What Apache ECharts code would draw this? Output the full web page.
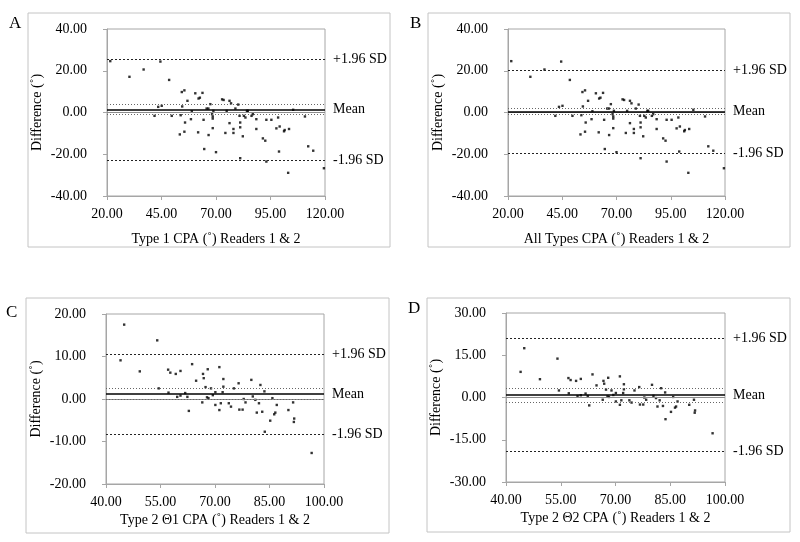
<!DOCTYPE html>
<html>
<head>
<meta charset="utf-8">
<script src="https://cdn.jsdelivr.net/npm/echarts@6/dist/echarts.min.js"></script>
<style>
  html, body { margin: 0; padding: 0; background: #fff; }
  #chart { width: 800px; height: 542px; }
</style>
</head>
<body>
<div id="chart"></div>
<script>
// Type 1 / all types: mean of readers (x) and difference (y)
const type1Mean = [21.5, 30.3, 36.8, 44.5, 48.5, 45.1, 43.5, 41.8, 49.7, 54.3,
  55.5, 56.9, 54.5, 53.8, 55.8, 58.5, 58.9, 53.4, 55.5, 60.5,
  62.0, 62.6, 63.8, 64.3, 61.8, 64.6, 65.7, 66.5, 67.4, 68.2,
  68.5, 68.8, 68.5, 68.5, 66.6, 70.0, 72.8, 73.5, 74.9, 76.2,
  76.9, 76.2, 74.3, 78.0, 78.0, 78.9, 80.2, 80.8, 81.1, 81.1,
  82.3, 81.1, 82.8, 83.5, 84.2, 84.6, 86.3, 86.9, 88.5, 88.5,
  91.5, 92.6, 93.1, 93.1, 95.4, 97.7, 98.5, 99.2, 98.9, 101.2,
  101.5, 103.5, 105.4, 103.1, 110.8, 112.3, 114.6, 119.5];
const type1Diff = [24.6, 17.1, 20.6, 24.4, 15.6, 3.2, 2.7, -1.6, -1.6, 9.8,
  10.6, 5.6, 2.9, -1.3, -4.8, -3.2, 0.6, -10.5, -9.2, 9.2,
  6.7, 7.1, 9.4, -3.5, -9.5, -17.5, 1.9, 1.9, 4.0, -0.8,
  -1.9, 0.8, -2.9, -7.5, -10.8, -19.0, 6.3, 6.0, 0.8, 5.6,
  4.4, -5.1, -9.8, -7.9, -9.8, 1.9, 3.8, -1.6, -4.8, -7.1,
  -11.4, -21.9, -1.6, -2.4, 0.8, 0.8, -1.6, -0.8, -3.2, -7.9,
  -12.4, -13.5, -23.5, -3.5, -3.5, -7.6, -2.4, -6.7, -18.7, -9.0,
  -8.4, -7.9, 1.3, -28.9, -1.9, -16.2, -18.3, -26.7];

// Type 2 (Θ1 / Θ2)
const type2Mean = [45.0, 44.0, 49.3, 54.1, 54.5, 57.1, 57.7, 59.2, 60.5, 57.2,
  59.6, 60.5, 61.8, 62.4, 62.8, 63.7, 64.8, 66.7, 66.9, 68.0,
  67.4, 67.8, 68.2, 66.5, 68.9, 69.4, 70.1, 70.1, 71.2, 72.3,
  72.3, 72.1, 71.6, 71.2, 73.8, 74.4, 75.2, 76.5, 76.7, 77.6,
  77.9, 78.4, 80.0, 80.4, 81.1, 81.5, 82.1, 82.5, 83.0, 83.6,
  83.7, 85.2, 85.8, 86.3, 86.6, 87.0, 90.2, 91.5, 91.8, 91.7,
  96.6];
const type2Diff = [17.5, 9.1, 6.5, 13.8, 2.5, 6.9, 6.2, 5.9, 6.6, 1.5,
  0.5, 0.8, 1.4, 0.5, -2.8, 8.2, 4.3, 5.9, 4.9, 7.0,
  2.8, 0.4, 0.2, -0.8, 2.5, 0.9, 1.6, -1.4, 7.5, 4.7,
  2.9, 1.6, -1.0, -2.6, -1.0, -1.8, 2.5, 3.7, -2.5, -2.5,
  0.0, -0.8, 4.5, 0.6, -0.2, -3.2, -1.0, 3.3, -3.0, 1.8,
  -7.7, -5.1, 0.2, -3.6, -3.2, -1.4, -2.6, -0.8, -4.6, -5.4,
  -12.7];

const panelLetters = ['A', 'B', 'C', 'D'];
const xTitles = [
  'Type 1 CPA (˚) Readers 1 & 2',
  'All Types CPA (˚) Readers 1 & 2',
  'Type 2 Θ1 CPA (˚) Readers 1 & 2',
  'Type 2 Θ2 CPA (˚) Readers 1 & 2'
];
const yTitle = 'Difference (˚)';
const xTicks = [
  [20, 45, 70, 95, 120],
  [20, 45, 70, 95, 120],
  [40, 55, 70, 85, 100],
  [40, 55, 70, 85, 100]
];
const yTicks = [
  [-40, -20, 0, 20, 40],
  [-40, -20, 0, 20, 40],
  [-20, -10, 0, 10, 20],
  [-30, -15, 0, 15, 30]
];
const biasMean = [1.5, 0.4, 1.2, 0.9];
const biasCiUpper = [4.0, 1.85, 2.45, 3.35];
const biasCiLower = [-1.0, -1.05, 0.0, -1.55];
const loaUpper = [25.7, 20.3, 10.6, 20.9];
const loaLower = [-22.7, -19.5, -8.3, -19.1];
const limitLabels = ['+1.96 SD', 'Mean', '-1.96 SD'];

const panelX = [type1Mean, type1Mean, type2Mean, type2Mean];
const panelY = [type1Diff, type1Diff, type2Diff, type2Diff];

const FONT = 'Liberation Serif';
const grids = [
  { left: 107, top: 29, width: 218, height: 167 },
  { left: 508, top: 29, width: 217, height: 167 },
  { left: 106, top: 314, width: 218, height: 170 },
  { left: 506, top: 313, width: 219, height: 169 }
];
const boxes = [
  { x: 28, y: 13, width: 362, height: 234 },
  { x: 428, y: 13, width: 362, height: 234 },
  { x: 26, y: 298, width: 363, height: 235 },
  { x: 427, y: 298, width: 363, height: 234 }
];
const letterPos = [[9, 15], [410, 15], [6, 304], [408, 300]];
const xNameGap = [36, 36, 29, 29];

const chart = echarts.init(document.getElementById('chart'));

const fmt = v => v.toFixed(2);
const axisGray = '#a6a6a6';

const xAxes = [], yAxes = [], series = [];
grids.forEach((g, i) => {
  g.show = true;
  g.borderColor = axisGray;
  g.borderWidth = 1;
  g.backgroundColor = 'transparent';
  const xt = xTicks[i], yt = yTicks[i];
  xAxes.push({
    type: 'value',
    gridIndex: i,
    min: xt[0],
    max: xt[xt.length - 1],
    interval: xt[1] - xt[0],
    name: xTitles[i],
    nameLocation: 'middle',
    nameGap: xNameGap[i],
    nameTextStyle: { fontFamily: FONT, fontSize: 14, color: '#000' },
    axisLine: { show: true, onZero: false, lineStyle: { color: axisGray } },
    axisTick: { show: true, length: 4, lineStyle: { color: axisGray } },
    axisLabel: { fontFamily: FONT, fontSize: 14, color: '#000', margin: 11, formatter: fmt },
    splitLine: { show: false }
  });
  yAxes.push({
    type: 'value',
    gridIndex: i,
    min: yt[0],
    max: yt[yt.length - 1],
    interval: yt[1] - yt[0],
    name: yTitle,
    nameLocation: 'middle',
    nameGap: 63,
    nameTextStyle: { fontFamily: FONT, fontSize: 14, color: '#000' },
    axisLine: { show: true, lineStyle: { color: axisGray } },
    axisTick: { show: true, length: 4, lineStyle: { color: axisGray } },
    axisLabel: { fontFamily: FONT, fontSize: 14, color: '#000', margin: 20, formatter: fmt },
    splitLine: { show: false }
  });

  const lbl = text => ({
    show: true, position: 'end', distance: 8, formatter: text,
    fontFamily: FONT, fontSize: 14, color: '#000'
  });
  const noLbl = { show: false };
  const dashed = { color: '#222', width: 1, type: [2, 2] };
  const dotted = { color: '#666', width: 1, type: [1, 2] };

  series.push({
    type: 'scatter',
    xAxisIndex: i,
    yAxisIndex: i,
    symbol: 'rect',
    symbolSize: 2.4,
    itemStyle: { color: '#000' },
    data: panelX[i].map((x, k) => [x, panelY[i][k]]),
    markLine: {
      symbol: 'none',
      silent: true,
      animation: false,
      data: [
        { yAxis: 0, lineStyle: { color: '#8c8c8c', width: 1.2, type: 'solid' }, label: noLbl },
        { yAxis: loaUpper[i], lineStyle: dashed, label: lbl(limitLabels[0]) },
        { yAxis: biasCiUpper[i], lineStyle: dotted, label: noLbl },
        { yAxis: biasMean[i], lineStyle: { color: '#000', width: 1.5, type: 'solid' }, label: lbl(limitLabels[1]) },
        { yAxis: biasCiLower[i], lineStyle: dotted, label: noLbl },
        { yAxis: loaLower[i], lineStyle: dashed, label: lbl(limitLabels[2]) }
      ]
    }
  });
});

const graphics = [];
boxes.forEach((b, i) => {
  graphics.push({
    type: 'rect', shape: b, silent: true,
    style: { fill: 'none', stroke: '#c4c4c4', lineWidth: 1 }
  });
  graphics.push({
    type: 'text', x: letterPos[i][0], y: letterPos[i][1], silent: true,
    style: { text: panelLetters[i], font: '17px "Liberation Serif"', fill: '#000' }
  });
});

chart.setOption({
  animation: false,
  backgroundColor: '#fff',
  grid: grids,
  xAxis: xAxes,
  yAxis: yAxes,
  series: series,
  graphic: graphics
});
</script>
</body>
</html>
